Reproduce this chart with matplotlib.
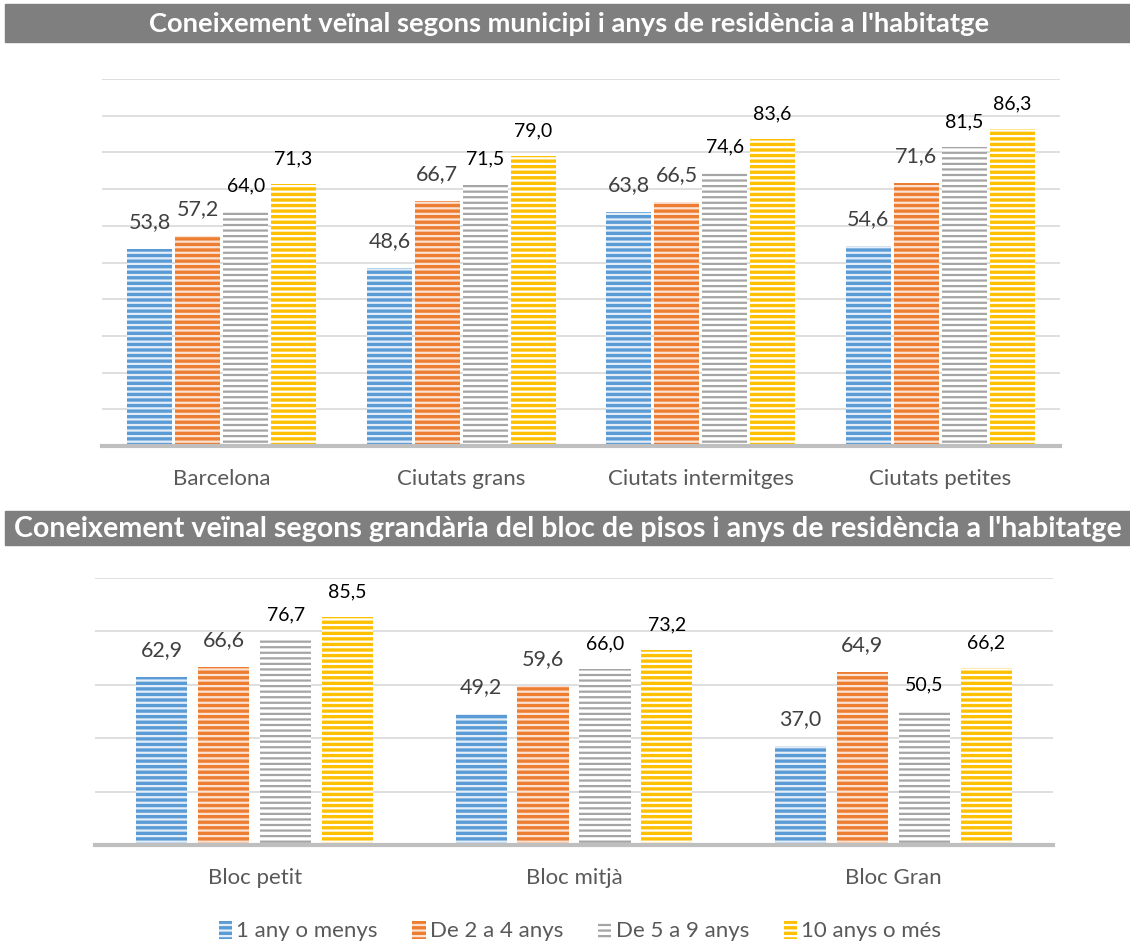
import matplotlib
matplotlib.use("Agg")
import matplotlib.pyplot as plt
from matplotlib.patches import Rectangle, Patch
import numpy as np

plt.rcParams['font.family'] = ['Lato', 'DejaVu Sans']
plt.rcParams['hatch.linewidth'] = 1.6

# ---- data ----
title_top = "Coneixement veïnal segons municipi i anys de residència a l'habitatge"
title_bottom = "Coneixement veïnal segons grandària del bloc de pisos i anys de residència a l'habitatge"
series = ["1 any o menys", "De 2 a 4 anys", "De 5 a 9 anys", "10 anys o més"]

cats_top = ["Barcelona", "Ciutats grans", "Ciutats intermitges", "Ciutats petites"]
top_1 = [53.8, 48.6, 63.8, 54.6]
top_2 = [57.2, 66.7, 66.5, 71.6]
top_3 = [64.0, 71.5, 74.6, 81.5]
top_4 = [71.3, 79.0, 83.6, 86.3]

cats_bot = ["Bloc petit", "Bloc mitjà", "Bloc Gran"]
bot_1 = [62.9, 49.2, 37.0]
bot_2 = [66.6, 59.6, 64.9]
bot_3 = [76.7, 66.0, 50.5]
bot_4 = [85.5, 73.2, 66.2]

# (facecolor, hatch color) per series
styles = [("#5B9BD5", "#E3EEF9"), ("#ED7D31", "#FBE2D3"), ("white", "#A5A5A5"), ("#FFC000", "white")]
label_style = [("#404040", 15.5), ("#404040", 15.5), ("black", 14), ("black", 14)]

W, H = 1130, 944
fig = plt.figure(figsize=(W / 100, H / 100), dpi=100)


def fx(px):
    return px / W


def fy(py):
    return 1 - py / H


def draw_panel(ax, cats, vals, width, step, ytick_step):
    x = np.arange(len(cats))
    n = len(vals)
    for i, v in enumerate(vals):
        off = (i - (n - 1) / 2) * step
        fc, hc = styles[i]
        bars = ax.bar(x + off, v, width, color=fc, edgecolor=hc, linewidth=0,
                      hatch='---', zorder=3)
        lc, ls = label_style[i]
        for b, val in zip(bars, v):
            ax.annotate(f"{val:.1f}".replace('.', ','),
                        (b.get_x() + b.get_width() / 2, b.get_height()),
                        xytext=(0, 12), textcoords='offset points',
                        ha='center', va='bottom', color=lc, fontsize=ls)
    ax.set_xlim(-0.5, len(cats) - 0.5)
    ax.set_ylim(0, 100)
    ax.set_yticks(np.arange(ytick_step, 100.1, ytick_step))
    ax.yaxis.grid(True, color='#D9D9D9', linewidth=1.2, zorder=0)
    ax.tick_params(axis='y', left=False, labelleft=False)
    ax.tick_params(axis='x', bottom=False, labelsize=16, labelcolor='#595959', pad=13)
    ax.set_xticks(x)
    ax.set_xticklabels(cats)
    for s in ['top', 'right', 'left']:
        ax.spines[s].set_visible(False)
    ax.spines['bottom'].set_color('#BFBFBF')
    ax.spines['bottom'].set_linewidth(3)
    ax.spines['bottom'].set_zorder(4)


ax1 = fig.add_axes([fx(102), fy(446), fx(958), (446 - 79) / H])
draw_panel(ax1, cats_top, [top_1, top_2, top_3, top_4], 0.188, 0.2, 10)

ax2 = fig.add_axes([fx(95), fy(845), fx(958), (845 - 578) / H])
draw_panel(ax2, cats_bot, [bot_1, bot_2, bot_3, bot_4], 0.16, 0.194, 20)

# title bars
fig.patches.append(Rectangle((fx(5), fy(42)), fx(1125), 38 / H, transform=fig.transFigure,
                             color='#7F7F7F', zorder=0))
fig.patches.append(Rectangle((fx(5), fy(545)), fx(1125), 34 / H, transform=fig.transFigure,
                             color='#7F7F7F', zorder=0))
t1 = fig.text(fx(569), fy(24), title_top, ha='center', va='center', color='white',
              fontweight='bold', fontsize=17)
t2 = fig.text(fx(568), fy(529), title_bottom, ha='center', va='center', color='white',
              fontweight='bold', fontsize=17)

# fit titles to reference widths
fig.canvas.draw()
r = fig.canvas.get_renderer()
for t, target in [(t1, 842), (t2, 1112)]:
    w = t.get_window_extent(r).width
    t.set_fontsize(t.get_fontsize() * target / w)

# legend
handles = [Patch(facecolor=styles[i][0], edgecolor=styles[i][1], hatch='---', linewidth=0)
           for i in range(4)]
fig.legend(handles, series, loc='center', bbox_to_anchor=(fx(580), fy(931)), ncol=4,
           frameon=False, fontsize=16, labelcolor='#595959', handlelength=0.6,
           handleheight=0.9, handletextpad=0.2, columnspacing=1.55)

fig.savefig("out.png", dpi=100)
